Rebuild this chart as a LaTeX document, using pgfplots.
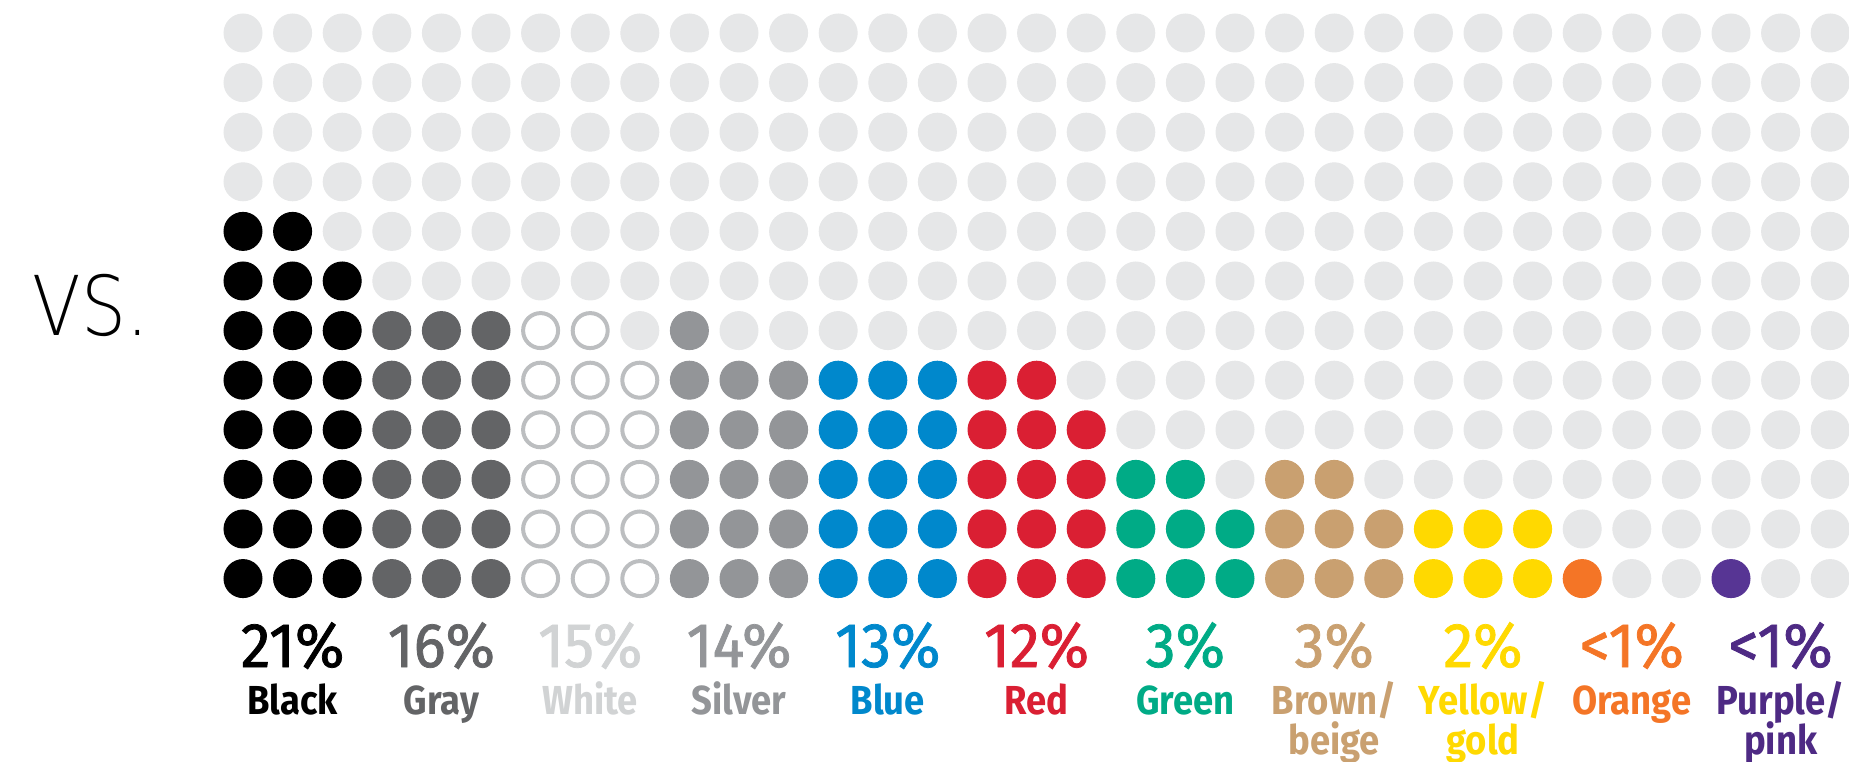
\documentclass[border=0pt]{standalone}
\usepackage{pgfplots}
\pgfplotsset{compat=1.18}
\usepackage{fontspec}
\newfontfamily\pctfont[FakeStretch=0.95, FakeBold=1.2]{Fira Sans}
\newfontfamily\namefont[FakeStretch=0.9]{Fira Sans}
\newfontfamily\vsfont[FakeStretch=0.86]{DejaVu Sans ExtraLight}
\definecolor{cbg}{HTML}{E6E7E8}
\definecolor{cblack}{HTML}{000000}
\definecolor{cgray}{HTML}{636466}
\definecolor{cwhite}{HTML}{BCBEC0}
\definecolor{cwhitetxt}{HTML}{D1D3D4}
\definecolor{csilver}{HTML}{939598}
\definecolor{cblue}{HTML}{0088CC}
\definecolor{cred}{HTML}{DA1F33}
\definecolor{cgreen}{HTML}{00AB86}
\definecolor{cbrown}{HTML}{C9A070}
\definecolor{cyellow}{HTML}{FFD900}
\definecolor{corange}{HTML}{F47526}
\definecolor{cpurple}{HTML}{573594}
\definecolor{cpurpletxt}{HTML}{4E2A84}
\begin{document}
\begin{tikzpicture}
\useasboundingbox (0,0) rectangle (739.6pt,304.8pt);
\begin{axis}[at={(97.2pt,73.36pt)}, anchor=origin,
  x=19.84pt, y=19.84pt, xmin=-1, xmax=33, ymin=-1, ymax=12,
  hide axis, clip=false, scale only axis]
% background dots
\addplot[only marks, mark=*, mark size=7.6pt, mark options={fill=cbg, draw=cbg}] coordinates {
(0,8)(0,9)(0,10)(0,11)
(1,8)(1,9)(1,10)(1,11)
(2,7)(2,8)(2,9)(2,10)(2,11)
(3,6)(3,7)(3,8)(3,9)(3,10)(3,11)
(4,6)(4,7)(4,8)(4,9)(4,10)(4,11)
(5,6)(5,7)(5,8)(5,9)(5,10)(5,11)
(6,6)(6,7)(6,8)(6,9)(6,10)(6,11)
(7,6)(7,7)(7,8)(7,9)(7,10)(7,11)
(8,5)(8,6)(8,7)(8,8)(8,9)(8,10)(8,11)
(9,6)(9,7)(9,8)(9,9)(9,10)(9,11)
(10,5)(10,6)(10,7)(10,8)(10,9)(10,10)(10,11)
(11,5)(11,6)(11,7)(11,8)(11,9)(11,10)(11,11)
(12,5)(12,6)(12,7)(12,8)(12,9)(12,10)(12,11)
(13,5)(13,6)(13,7)(13,8)(13,9)(13,10)(13,11)
(14,5)(14,6)(14,7)(14,8)(14,9)(14,10)(14,11)
(15,5)(15,6)(15,7)(15,8)(15,9)(15,10)(15,11)
(16,5)(16,6)(16,7)(16,8)(16,9)(16,10)(16,11)
(17,4)(17,5)(17,6)(17,7)(17,8)(17,9)(17,10)(17,11)
(18,3)(18,4)(18,5)(18,6)(18,7)(18,8)(18,9)(18,10)(18,11)
(19,3)(19,4)(19,5)(19,6)(19,7)(19,8)(19,9)(19,10)(19,11)
(20,2)(20,3)(20,4)(20,5)(20,6)(20,7)(20,8)(20,9)(20,10)(20,11)
(21,3)(21,4)(21,5)(21,6)(21,7)(21,8)(21,9)(21,10)(21,11)
(22,3)(22,4)(22,5)(22,6)(22,7)(22,8)(22,9)(22,10)(22,11)
(23,2)(23,3)(23,4)(23,5)(23,6)(23,7)(23,8)(23,9)(23,10)(23,11)
(24,2)(24,3)(24,4)(24,5)(24,6)(24,7)(24,8)(24,9)(24,10)(24,11)
(25,2)(25,3)(25,4)(25,5)(25,6)(25,7)(25,8)(25,9)(25,10)(25,11)
(26,2)(26,3)(26,4)(26,5)(26,6)(26,7)(26,8)(26,9)(26,10)(26,11)
(27,1)(27,2)(27,3)(27,4)(27,5)(27,6)(27,7)(27,8)(27,9)(27,10)(27,11)
(28,0)(28,1)(28,2)(28,3)(28,4)(28,5)(28,6)(28,7)(28,8)(28,9)(28,10)(28,11)
(29,0)(29,1)(29,2)(29,3)(29,4)(29,5)(29,6)(29,7)(29,8)(29,9)(29,10)(29,11)
(30,1)(30,2)(30,3)(30,4)(30,5)(30,6)(30,7)(30,8)(30,9)(30,10)(30,11)
(31,0)(31,1)(31,2)(31,3)(31,4)(31,5)(31,6)(31,7)(31,8)(31,9)(31,10)(31,11)
(32,0)(32,1)(32,2)(32,3)(32,4)(32,5)(32,6)(32,7)(32,8)(32,9)(32,10)(32,11)
};
% Black
\addplot[only marks, mark=*, mark size=7.6pt, mark options={fill=cblack, draw=cblack}] coordinates {
(0,0)(0,1)(0,2)(0,3)(0,4)(0,5)(0,6)(0,7)
(1,0)(1,1)(1,2)(1,3)(1,4)(1,5)(1,6)(1,7)
(2,0)(2,1)(2,2)(2,3)(2,4)(2,5)(2,6)
};
% Gray
\addplot[only marks, mark=*, mark size=7.6pt, mark options={fill=cgray, draw=cgray}] coordinates {
(3,0)(3,1)(3,2)(3,3)(3,4)(3,5)
(4,0)(4,1)(4,2)(4,3)(4,4)(4,5)
(5,0)(5,1)(5,2)(5,3)(5,4)(5,5)
};
% White (hollow)
\addplot[only marks, mark=o, mark size=7pt, mark options={draw=cwhite, line width=1.6pt}] coordinates {
(6,0)(6,1)(6,2)(6,3)(6,4)(6,5)
(7,0)(7,1)(7,2)(7,3)(7,4)(7,5)
(8,0)(8,1)(8,2)(8,3)(8,4)
};
% Silver
\addplot[only marks, mark=*, mark size=7.6pt, mark options={fill=csilver, draw=csilver}] coordinates {
(9,0)(9,1)(9,2)(9,3)(9,4)(9,5)
(10,0)(10,1)(10,2)(10,3)(10,4)
(11,0)(11,1)(11,2)(11,3)(11,4)
};
% Blue
\addplot[only marks, mark=*, mark size=7.6pt, mark options={fill=cblue, draw=cblue}] coordinates {
(12,0)(12,1)(12,2)(12,3)(12,4)
(13,0)(13,1)(13,2)(13,3)(13,4)
(14,0)(14,1)(14,2)(14,3)(14,4)
};
% Red
\addplot[only marks, mark=*, mark size=7.6pt, mark options={fill=cred, draw=cred}] coordinates {
(15,0)(15,1)(15,2)(15,3)(15,4)
(16,0)(16,1)(16,2)(16,3)(16,4)
(17,0)(17,1)(17,2)(17,3)
};
% Green
\addplot[only marks, mark=*, mark size=7.6pt, mark options={fill=cgreen, draw=cgreen}] coordinates {
(18,0)(18,1)(18,2)
(19,0)(19,1)(19,2)
(20,0)(20,1)
};
% Brown
\addplot[only marks, mark=*, mark size=7.6pt, mark options={fill=cbrown, draw=cbrown}] coordinates {
(21,0)(21,1)(21,2)
(22,0)(22,1)(22,2)
(23,0)(23,1)
};
% Yellow
\addplot[only marks, mark=*, mark size=7.6pt, mark options={fill=cyellow, draw=cyellow}] coordinates {
(24,0)(24,1)
(25,0)(25,1)
(26,0)(26,1)
};
% Orange
\addplot[only marks, mark=*, mark size=7.6pt, mark options={fill=corange, draw=corange}] coordinates {(27,0)};
% Purple
\addplot[only marks, mark=*, mark size=7.6pt, mark options={fill=cpurple, draw=cpurple}] coordinates {(30,0)};

% labels
\tikzset{pct/.style={anchor=base, inner sep=0pt, font=\pctfont\fontsize{25.2pt}{28pt}\selectfont},
         nm/.style={anchor=base, inner sep=0pt, font=\namefont\bfseries\fontsize{16.2pt}{17pt}\selectfont}}
\def\yp{-1.783}
\def\yn{-2.749}
\def\ynn{-3.556}
\node[pct, text=cblack] at (axis cs:1,\yp) {21\%};
\node[nm, text=cblack] at (axis cs:1,\yn) {Black};
\node[pct, text=cgray] at (axis cs:4,\yp) {16\%};
\node[nm, text=cgray] at (axis cs:4,\yn) {Gray};
\node[pct, text=cwhitetxt] at (axis cs:7,\yp) {15\%};
\node[nm, text=cwhitetxt] at (axis cs:7,\yn) {White};
\node[pct, text=csilver] at (axis cs:10,\yp) {14\%};
\node[nm, text=csilver] at (axis cs:10,\yn) {Silver};
\node[pct, text=cblue] at (axis cs:13,\yp) {13\%};
\node[nm, text=cblue] at (axis cs:13,\yn) {Blue};
\node[pct, text=cred] at (axis cs:16,\yp) {12\%};
\node[nm, text=cred] at (axis cs:16,\yn) {Red};
\node[pct, text=cgreen] at (axis cs:19,\yp) {3\%};
\node[nm, text=cgreen] at (axis cs:19,\yn) {Green};
\node[pct, text=cbrown] at (axis cs:22,\yp) {3\%};
\node[nm, text=cbrown] at (axis cs:22,\yn) {Brown/};
\node[nm, text=cbrown] at (axis cs:22,\ynn) {beige};
\node[pct, text=cyellow] at (axis cs:25,\yp) {2\%};
\node[nm, text=cyellow] at (axis cs:25,\yn) {Yellow/};
\node[nm, text=cyellow] at (axis cs:25,\ynn) {gold};
\node[pct, text=corange] at (axis cs:28,\yp) {<1\%};
\node[nm, text=corange] at (axis cs:28,\yn) {Orange};
\node[pct, text=cpurpletxt] at (axis cs:31,\yp) {<1\%};
\node[nm, text=cpurpletxt] at (axis cs:31,\yn) {Purple/};
\node[nm, text=cpurpletxt] at (axis cs:31,\ynn) {pink};
\node[anchor=base west, inner sep=0pt, font=\vsfont\fontsize{33pt}{40pt}\selectfont] at (axis cs:-4.254,4.911) {VS.};
\end{axis}
\end{tikzpicture}
\end{document}
